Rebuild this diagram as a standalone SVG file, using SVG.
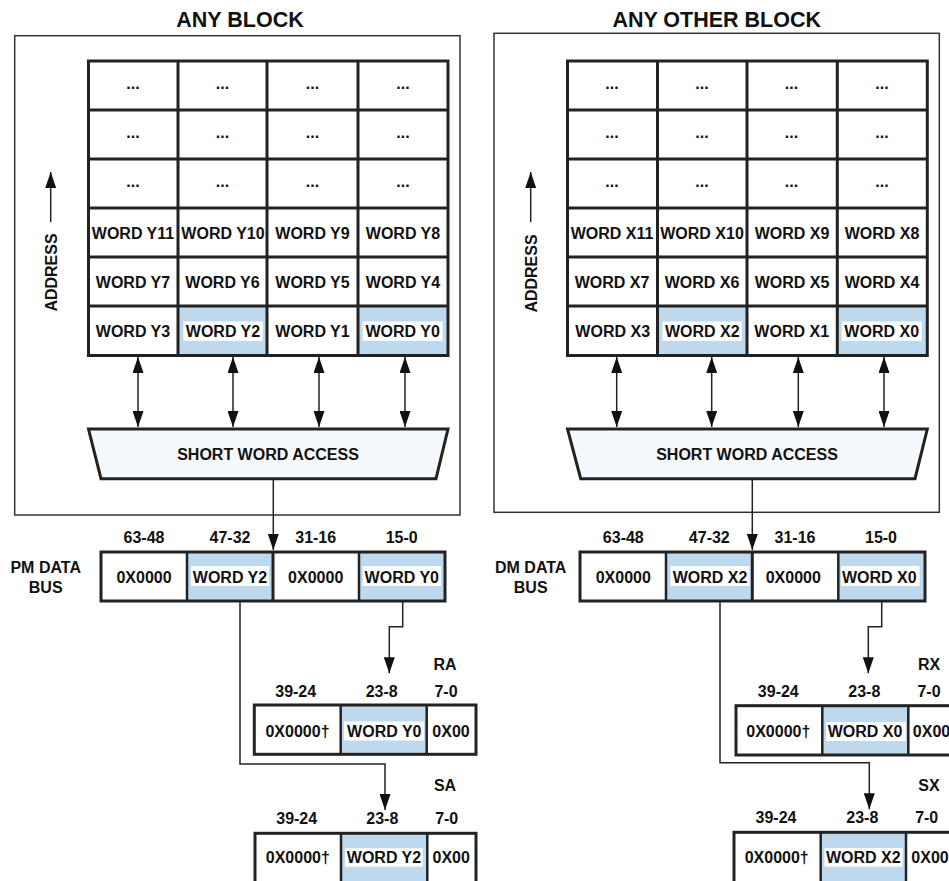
<svg xmlns="http://www.w3.org/2000/svg" width="949" height="881" viewBox="0 0 949 881">
<style>
text{font-family:"Liberation Sans",Arial,sans-serif;font-weight:bold;font-size:16px;fill:#111;text-anchor:middle}
.title{font-size:21.5px}
.outer{fill:none;stroke:#333;stroke-width:1.5}
.cell{fill:#fff;stroke:#222;stroke-width:3}
.hl{fill:#bed9ee;stroke:none}
.wb{fill:#fff;stroke:none}
.grid{fill:none;stroke:#222;stroke-width:3}
.div{stroke:#222;stroke-width:2.5}
.trap{fill:#f6f9fc;stroke:#222;stroke-width:3}
.conn{fill:none;stroke:#222;stroke-width:1.5}
</style>
<defs>
<marker id="ah" viewBox="0 0 16 11" refX="16" refY="5.5" markerWidth="16" markerHeight="11" markerUnits="userSpaceOnUse" orient="auto-start-reverse">
<path d="M0,0 L16,5.5 L0,11 z" fill="#111"/>
</marker>
</defs>

<!-- LEFT PANEL -->
<g id="any-block">
<text class="title" x="240" y="26.7">ANY BLOCK</text>
<rect class="outer" x="14.7" y="35.7" width="445.3" height="479.3"/>
</g>
<g id="grid-y">
<rect class="hl" x="178" y="306" width="89" height="49.5"/>
<rect class="hl" x="358" y="306" width="90" height="49.5"/>
<rect class="grid" x="88.5" y="61" width="359.5" height="294.5"/>
<path class="grid" d="M178,61V355.5M267,61V355.5M358,61V355.5M88.5,110H448M88.5,159H448M88.5,208H448M88.5,257H448M88.5,306H448"/>
<text x="133" y="88.7">...</text><text x="222.5" y="88.7">...</text><text x="312.5" y="88.7">...</text><text x="403" y="88.7">...</text>
<text x="133" y="137.7">...</text><text x="222.5" y="137.7">...</text><text x="312.5" y="137.7">...</text><text x="403" y="137.7">...</text>
<text x="133" y="186.7">...</text><text x="222.5" y="186.7">...</text><text x="312.5" y="186.7">...</text><text x="403" y="186.7">...</text>
<text x="133" y="238.5">WORD Y11</text><text x="223" y="238.5">WORD Y10</text><text x="312.5" y="238.5">WORD Y9</text><text x="403" y="238.5">WORD Y8</text>
<text x="133" y="287.5">WORD Y7</text><text x="222.5" y="287.5">WORD Y6</text><text x="312.5" y="287.5">WORD Y5</text><text x="403" y="287.5">WORD Y4</text>
<rect class="wb" x="183.3" y="321.5" width="79.4" height="19.3"/>
<rect class="wb" x="362.7" y="321.5" width="80" height="19.3"/>
<text x="133" y="336.5">WORD Y3</text><text x="223" y="336.5">WORD Y2</text><text x="312.5" y="336.5">WORD Y1</text><text x="402.7" y="336.5">WORD Y0</text>
</g>
<g id="address-y">
<text transform="translate(56.7,272.5) rotate(-90)">ADDRESS</text>
</g>
<g id="swa-y">
<polygon class="trap" points="88.5,429 448,429 436,478.7 101,478.7"/>
<text x="268" y="460">SHORT WORD ACCESS</text>
</g>
<g id="pm-bus">
<text x="45.7" y="573">PM DATA</text>
<text x="45.7" y="592.7">BUS</text>
<text x="144" y="542.7">63-48</text><text x="230" y="542.7">47-32</text><text x="315.7" y="542.7">31-16</text><text x="401.7" y="542.7">15-0</text>
<rect class="hl" x="187" y="552" width="86" height="49"/>
<rect class="hl" x="359" y="552" width="86" height="49"/>
<rect class="grid" x="101" y="552" width="344" height="49"/>
<path class="div" d="M187,552V601M359,552V601"/>
<path d="M273,552V601" stroke="#222" stroke-width="3"/>
<rect class="wb" x="191" y="566" width="78" height="20"/>
<rect class="wb" x="362.7" y="566" width="78.3" height="20"/>
<text x="144" y="582.7">0X0000</text><text x="230" y="582.7">WORD Y2</text><text x="315.7" y="582.7">0X0000</text><text x="401.8" y="582.7">WORD Y0</text>
</g>
<g id="ra-reg">
<text x="445" y="670">RA</text>
<text x="295.7" y="696.7">39-24</text><text x="381.7" y="696.7">23-8</text><text x="446" y="696.7">7-0</text>
<rect class="hl" x="340.7" y="705" width="86" height="49.3"/>
<rect class="grid" x="254.3" y="705" width="221.7" height="49.3"/>
<path class="div" d="M340.7,705V754.3M426.7,705V754.3"/>
<rect class="wb" x="344" y="721.5" width="80" height="19"/>
<text x="297.5" y="736.7">0X0000†</text><text x="384.3" y="736.7">WORD Y0</text><text x="451" y="736.7">0X00</text>
</g>
<g id="sa-reg">
<text x="445" y="790.7">SA</text>
<text x="296.7" y="824.3">39-24</text><text x="382.3" y="824.3">23-8</text><text x="446.7" y="824.3">7-0</text>
<rect class="hl" x="341" y="833.3" width="86.3" height="60"/>
<rect class="grid" x="255" y="833.3" width="221" height="60"/>
<path class="div" d="M341,833.3V893M427.3,833.3V893"/>
<rect class="wb" x="345" y="848.3" width="77.7" height="18.4"/>
<text x="297.8" y="863.3">0X0000†</text><text x="384" y="863.3">WORD Y2</text><text x="451.2" y="863.3">0X00</text>
</g>

<!-- RIGHT PANEL -->
<g id="any-other-block">
<text class="title" x="716.7" y="26.7">ANY OTHER BLOCK</text>
<rect class="outer" x="494" y="33.3" width="445.3" height="479"/>
</g>
<g id="grid-x">
<rect class="hl" x="657.5" y="306" width="89.5" height="49.5"/>
<rect class="hl" x="837.3" y="306" width="90" height="49.5"/>
<rect class="grid" x="567.5" y="61" width="359.8" height="294.5"/>
<path class="grid" d="M657.5,61V355.5M747,61V355.5M837.3,61V355.5M567.5,110H927.3M567.5,159H927.3M567.5,208H927.3M567.5,257H927.3M567.5,306H927.3"/>
<text x="612" y="88.7">...</text><text x="702" y="88.7">...</text><text x="791.5" y="88.7">...</text><text x="882" y="88.7">...</text>
<text x="612" y="137.7">...</text><text x="702" y="137.7">...</text><text x="791.5" y="137.7">...</text><text x="882" y="137.7">...</text>
<text x="612" y="186.7">...</text><text x="702" y="186.7">...</text><text x="791.5" y="186.7">...</text><text x="882" y="186.7">...</text>
<text x="612" y="238.5">WORD X11</text><text x="702" y="238.5">WORD X10</text><text x="792" y="238.5">WORD X9</text><text x="882" y="238.5">WORD X8</text>
<text x="612" y="287.5">WORD X7</text><text x="702" y="287.5">WORD X6</text><text x="792" y="287.5">WORD X5</text><text x="882" y="287.5">WORD X4</text>
<rect class="wb" x="662.3" y="321.5" width="79.5" height="19.3"/>
<rect class="wb" x="841.7" y="321.5" width="80" height="19.3"/>
<text x="612.7" y="336.5">WORD X3</text><text x="702.3" y="336.5">WORD X2</text><text x="791.7" y="336.5">WORD X1</text><text x="881.7" y="336.5">WORD X0</text>
</g>
<g id="address-x">
<text transform="translate(536.7,273.5) rotate(-90)">ADDRESS</text>
</g>
<g id="swa-x">
<polygon class="trap" points="567.5,429 927.3,429 915,478.7 580.7,478.7"/>
<text x="747" y="460">SHORT WORD ACCESS</text>
</g>
<g id="dm-bus">
<text x="530.7" y="573">DM DATA</text>
<text x="530.7" y="592.7">BUS</text>
<text x="623.3" y="542.7">63-48</text><text x="709.3" y="542.7">47-32</text><text x="795" y="542.7">31-16</text><text x="881" y="542.7">15-0</text>
<rect class="hl" x="666" y="552" width="86.3" height="49"/>
<rect class="hl" x="838.3" y="552" width="86.7" height="49"/>
<rect class="grid" x="580" y="552" width="345" height="49"/>
<path class="div" d="M666,552V601M838.3,552V601"/>
<path d="M752.3,552V601" stroke="#222" stroke-width="3"/>
<rect class="wb" x="670.5" y="566" width="79" height="20"/>
<rect class="wb" x="841" y="566" width="78.5" height="20"/>
<text x="623.3" y="582.7">0X0000</text><text x="710" y="582.7">WORD X2</text><text x="793.3" y="582.7">0X0000</text><text x="879.3" y="582.7">WORD X0</text>
</g>
<g id="rx-reg">
<text x="929" y="670">RX</text>
<text x="778.3" y="696.7">39-24</text><text x="864.3" y="696.7">23-8</text><text x="929" y="696.7">7-0</text>
<rect class="hl" x="822.3" y="705.7" width="86" height="49.3"/>
<rect class="grid" x="736" y="705.7" width="250" height="49.3"/>
<path class="div" d="M822.3,705.7V755M908.3,705.7V755"/>
<rect class="wb" x="826" y="722" width="79.5" height="19"/>
<text x="778.3" y="736.7">0X0000†</text><text x="865" y="736.7">WORD X0</text><text x="931.5" y="736.7">0X00</text>
</g>
<g id="sx-reg">
<text x="929" y="790.7">SX</text>
<text x="776" y="823.3">39-24</text><text x="862.3" y="823.3">23-8</text><text x="926.7" y="823.3">7-0</text>
<rect class="hl" x="820.7" y="832.3" width="85.3" height="60"/>
<rect class="grid" x="734" y="832.3" width="250" height="60"/>
<path class="div" d="M820.7,832.3V893M906,832.3V893"/>
<rect class="wb" x="824.5" y="848" width="78" height="18.7"/>
<text x="776.7" y="863.3">0X0000†</text><text x="863.3" y="863.3">WORD X2</text><text x="930" y="863.3">0X00</text>
</g>

<!-- CONNECTORS -->
<g id="connectors">
<path class="conn" d="M50.7,222V172" marker-end="url(#ah)"/>
<path class="conn" d="M138,357V427" marker-start="url(#ah)" marker-end="url(#ah)"/>
<path class="conn" d="M233,357V427" marker-start="url(#ah)" marker-end="url(#ah)"/>
<path class="conn" d="M319,357V427" marker-start="url(#ah)" marker-end="url(#ah)"/>
<path class="conn" d="M405,357V427" marker-start="url(#ah)" marker-end="url(#ah)"/>
<path class="conn" d="M273.3,480V550" marker-end="url(#ah)"/>
<path class="conn" d="M402.7,602V626.7H389.3V673.3" marker-end="url(#ah)"/>
<path class="conn" d="M240,602V764H385V810" marker-end="url(#ah)"/>

<path class="conn" d="M530.7,222V172" marker-end="url(#ah)"/>
<path class="conn" d="M616.7,357V427" marker-start="url(#ah)" marker-end="url(#ah)"/>
<path class="conn" d="M711.7,357V427" marker-start="url(#ah)" marker-end="url(#ah)"/>
<path class="conn" d="M798.3,357V427" marker-start="url(#ah)" marker-end="url(#ah)"/>
<path class="conn" d="M884,357V427" marker-start="url(#ah)" marker-end="url(#ah)"/>
<path class="conn" d="M752.3,480V550" marker-end="url(#ah)"/>
<path class="conn" d="M881.7,602V626.7H868.3V673.3" marker-end="url(#ah)"/>
<path class="conn" d="M720,602V762.7H869.3V809.3" marker-end="url(#ah)"/>
</g>
</svg>
